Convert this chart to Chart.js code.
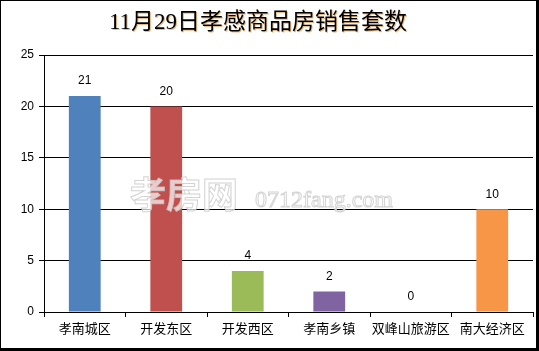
<!DOCTYPE html>
<html>
<head>
<meta charset="utf-8">
<script src="https://cdn.jsdelivr.net/npm/chart.js@4/dist/chart.umd.min.js"></script>
<style>
    html, body { margin: 0; padding: 0; background: #fff; }
    #wrap {
        width: 539px; height: 351px; box-sizing: border-box;
        border-style: solid; border-color: #000; border-width: 1px 3px 3px 1px;
    }
    canvas { display: block; }
</style>
</head>
<body>
<div id="wrap"><canvas id="sales" width="535" height="347"></canvas></div>
<script>
"use strict";

const chartTitle = "11月29日孝感商品房销售套数";
const districts = ["孝南城区", "开发东区", "开发西区", "孝南乡镇", "双峰山旅游区", "南大经济区"];
const salesCount = [21, 20, 4, 2, 0, 10];
const barColors = ["#4f81bd", "#c0504d", "#9bbb59", "#8064a2", "#4bacc6", "#f79646"];
const yTicks = [0, 5, 10, 15, 20, 25];

const labelFont = "'Liberation Sans', 'Noto Sans CJK SC', sans-serif";

// title with a faint orange shadow, like the original picture
const titlePlugin = {
    id: "shadowTitle",
    afterDraw(chart) {
        const c = chart.ctx;
        c.save();
        c.font = "23px 'Liberation Serif', 'Noto Sans CJK SC', serif";
        c.textAlign = "center";
        c.textBaseline = "middle";
        c.shadowColor = "rgba(220,140,50,0.6)";
        c.shadowOffsetX = 1;
        c.shadowOffsetY = 1;
        c.shadowBlur = 0;
        c.fillStyle = "#000";
        c.fillText(chartTitle, 257, 22);
        c.restore();
    }
};

// site watermark drawn over the plot
const watermarkPlugin = {
    id: "watermark",
    afterDatasetsDraw(chart) {
        const c = chart.ctx;
        c.save();
        c.lineWidth = 1;
        c.strokeStyle = "rgba(200,200,200,0.8)";
        c.fillStyle = "rgba(255,255,255,0.7)";
        c.textBaseline = "alphabetic";
        c.font = "bold 36px 'Noto Sans CJK SC', sans-serif";
        c.fillText("孝房网", 129, 207, 125);
        c.strokeText("孝房网", 129, 207, 125);
        c.font = "24px 'Liberation Serif', serif";
        c.fillText("0712fang.com", 254, 206, 156);
        c.strokeText("0712fang.com", 254, 206, 156);
        c.restore();
    }
};

// value labels above each bar
const valuePlugin = {
    id: "values",
    afterDraw(chart) {
        const c = chart.ctx;
        const meta = chart.getDatasetMeta(0);
        c.save();
        c.font = "12px " + labelFont;
        c.fillStyle = "#000";
        c.textAlign = "center";
        c.textBaseline = "middle";
        meta.data.forEach(function(bar, i) {
            c.fillText(String(salesCount[i]), bar.x, bar.y - 15);
        });
        c.restore();
    }
};

new Chart(document.getElementById("sales"), {
    type: "bar",
    data: {
        labels: districts,
        datasets: [ {
            data: salesCount,
            backgroundColor: barColors,
            borderWidth: 0,
            categoryPercentage: 1,
            barPercentage: 0.39
        } ]
    },
    options: {
        responsive: false,
        animation: false,
        layout: {
            padding: { top: 54, right: 3, bottom: 0, left: 0 }
        },
        plugins: {
            legend: { display: false },
            title: { display: false },
            tooltip: { enabled: false }
        },
        scales: {
            x: {
                grid: {
                    offset: true,
                    drawOnChartArea: false,
                    color: "#000",
                    tickLength: 5
                },
                border: { color: "#000", width: 1 },
                ticks: {
                    color: "#000",
                    padding: 5,
                    maxRotation: 0,
                    autoSkip: false,
                    font: { family: labelFont, size: 13 }
                },
                afterFit: function(scale) { scale.height = 36; }
            },
            y: {
                min: 0,
                max: 25,
                afterBuildTicks: function(scale) {
                    scale.ticks = yTicks.map(function(v) { return { value: v }; });
                },
                grid: {
                    color: "#000",
                    tickLength: 5
                },
                border: { color: "#000", width: 1 },
                ticks: {
                    color: "#000",
                    padding: 5,
                    font: { family: labelFont, size: 12 }
                },
                afterFit: function(scale) { scale.width = 43; }
            }
        }
    },
    plugins: [ titlePlugin, watermarkPlugin, valuePlugin ]
});
</script>
</body>
</html>
